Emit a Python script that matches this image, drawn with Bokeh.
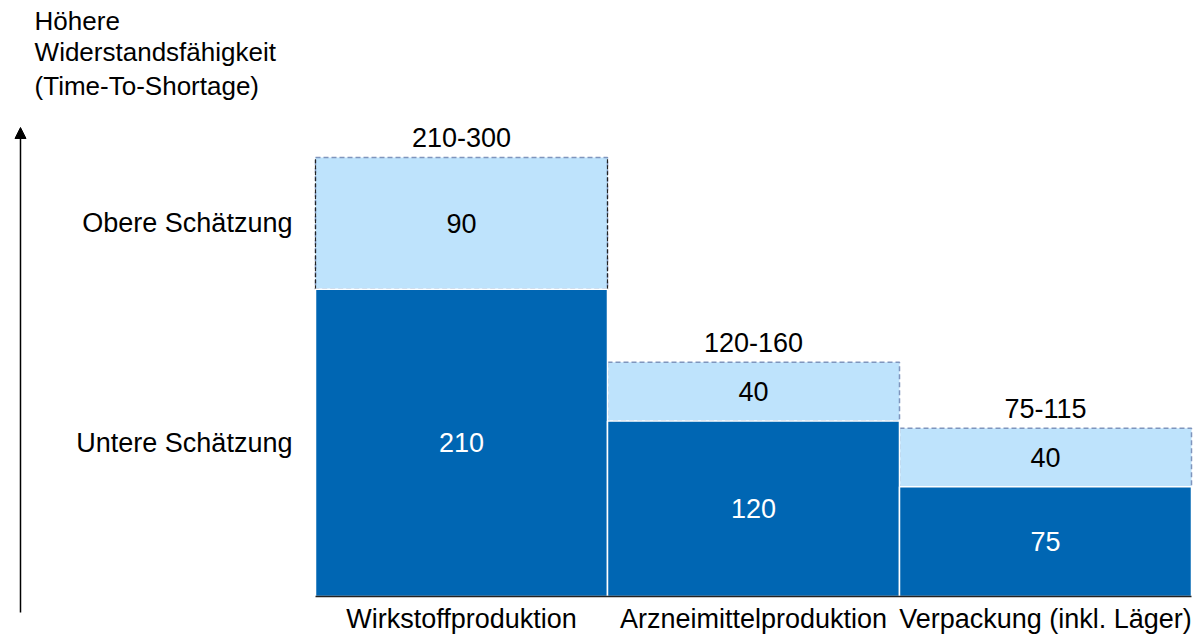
from bokeh.plotting import figure
from bokeh.models import Range1d, Label, Arrow, NormalHead, ColumnDataSource
from bokeh.core.properties import value
from bokeh.embed import file_html
from bokeh.resources import INLINE

categories = ["Wirkstoffproduktion", "Arzneimittelproduktion", "Verpackung (inkl. Läger)"]
lower = [210, 120, 75]
upper_extra = [90, 40, 40]
range_labels = ["210-300", "120-160", "75-115"]
title_lines = ["Höhere", "Widerstandsfähigkeit", "(Time-To-Shortage)"]
row_labels = ["Obere Schätzung", "Untere Schätzung"]

DARK = "#0066b3"
LIGHT = "#bee3fc"
DASH = "#7f95bd"
FONT = value("Liberation Sans")
FS = "27px"
FS_TITLE = "26px"

n = len(categories)
left = [i for i in range(n)]
right = [i + 1 for i in range(n)]
mid = [i + 0.5 for i in range(n)]
total = [a + b for a, b in zip(lower, upper_extra)]

src = ColumnDataSource(dict(
    left=left, right=right, mid=mid, lower=lower, total=total,
    lower_mid=[v / 2 for v in lower],
    upper_mid=[(a + t) / 2 for a, t in zip(lower, total)],
    lower_txt=[str(v) for v in lower],
    upper_txt=[str(v) for v in upper_extra],
    range_txt=range_labels, cat=categories,
    zero=[0] * n,
))

p = figure(width=1199, height=635, output_backend="svg", toolbar_location=None,
           x_range=Range1d(-1.07877, 3.0274), y_range=Range1d(-26.65, 407.29),
           min_border=0, outline_line_color=None)
p.axis.visible = False
p.grid.visible = False

# upper (light) segments with dashed outline
p.quad(left="left", right="right", bottom="lower", top="total", source=src,
       fill_color=LIGHT, line_color=DASH, line_dash="5 3", line_width=1.5)
# first bar's sides drawn dark dashed as in the reference
p.segment(x0=[left[0], right[0]], y0=[lower[0]] * 2, x1=[left[0], right[0]], y1=[total[0]] * 2,
          line_color="#222222", line_dash="4 2", line_width=1.2)
# lower (dark) segments
p.quad(left="left", right="right", bottom="zero", top="lower", source=src,
       fill_color=DARK, line_color="white", line_width=1.5)

# baseline
p.segment(x0=[0], y0=[0], x1=[n], y1=[0], line_color="#222222", line_width=1.5)

# value texts
p.text(x="mid", y="lower_mid", text="lower_txt", source=src, text_color="white",
       text_font=FONT, text_font_size=FS, text_align="center", text_baseline="middle")
p.text(x="mid", y="upper_mid", text="upper_txt", source=src, text_color="black",
       text_font=FONT, text_font_size=FS, text_align="center", text_baseline="middle")
p.text(x="mid", y="total", text="range_txt", source=src, text_color="black",
       text_font=FONT, text_font_size=FS, text_align="center", text_baseline="middle",
       y_offset=-20)
# category labels
p.text(x="mid", y="zero", text="cat", source=src, text_color="black",
       text_font=FONT, text_font_size=FS, text_align="center", text_baseline="middle",
       y_offset=22)

# row labels aligned with first bar's segments
row_y = [(lower[0] + total[0]) / 2, lower[0] / 2]
for t, yy in zip(row_labels, row_y):
    p.add_layout(Label(x=-0.079, y=yy, text=t, text_font="Liberation Sans",
                       text_font_size=FS, text_align="right", text_baseline="middle",
                       text_color="black"))

# title
for t, yy in zip(title_lines, [393.4, 372.0, 348.8]):
    p.add_layout(Label(x=-0.962, y=yy, text=t, text_font="Liberation Sans",
                       text_font_size=FS_TITLE, text_align="left", text_baseline="alphabetic",
                       text_color="black"))

# arrow
p.add_layout(Arrow(x_start=-1.0103, y_start=-11, x_end=-1.0103, y_end=320.5,
                   line_color="black", line_width=1.5,
                   end=NormalHead(size=11, fill_color="black", line_color="black")))

open("out.html", "w").write(file_html(p, INLINE))
